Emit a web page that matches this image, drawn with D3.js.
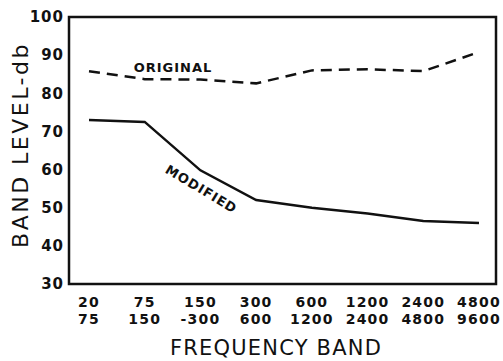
<!DOCTYPE html>
<html>
<head>
<meta charset="utf-8">
<script src="https://cdn.jsdelivr.net/npm/d3@7"></script>
<style>
  body { margin: 0; background: #fff; }
  svg { display: block; }
  text { font-family: "DejaVu Sans", sans-serif; fill: #111; }
</style>
</head>
<body>
<svg id="chart"></svg>
<script>
// bands (two-line labels)
const bandLow = ["20", "75", "150", "300", "600", "1200", "2400", "4800"];
const bandHigh = ["75", "150", "-300", "600", "1200", "2400", "4800", "9600"];
const original = [85.8, 83.7, 83.6, 82.6, 86.0, 86.3, 85.8, 90.8];
const modified = [73.0, 72.5, 59.8, 52.0, 50.0, 48.5, 46.5, 46.0];
const yTicks = [30, 40, 50, 60, 70, 80, 90, 100];

let width = 503;
let height = 361;
let plotLeft = 69, plotRight = 496, plotTop = 17, plotBottom = 284;

let svg = d3.select("#chart")
    .attr("width", width)
    .attr("height", height);

let x = d3.scalePoint()
    .domain(d3.range(bandLow.length))
    .range([89, 479]);

let y = d3.scaleLinear()
    .domain([30, 100])
    .range([plotBottom, plotTop]);

// frame
svg.append("rect")
    .attr("x", plotLeft)
    .attr("y", plotTop)
    .attr("width", plotRight - plotLeft)
    .attr("height", plotBottom - plotTop)
    .attr("fill", "none")
    .attr("stroke", "#111")
    .attr("stroke-width", 2.5);

// y axis labels
let yAxis = d3.axisLeft(y).tickValues(yTicks).tickSize(0).tickPadding(5);
let gy = svg.append("g")
    .attr("transform", "translate(" + plotLeft + ",0)")
    .call(yAxis);
gy.select(".domain").remove();
gy.selectAll("text")
    .style("font-size", "15px")
    .style("font-weight", "bold")
    .style("letter-spacing", "1px")
    .attr("fill", "#111");

// x labels, two lines
function bandRow(data, yPos) {
    svg.append("g").selectAll("text")
        .data(data)
        .enter()
        .append("text")
        .attr("x", (d, i) => x(i))
        .attr("y", yPos)
        .attr("text-anchor", "middle")
        .style("font-size", "14px")
        .style("font-weight", "bold")
        .style("letter-spacing", "1.2px")
        .text(d => d);
}
bandRow(bandLow, 307);
bandRow(bandHigh, 324);

let line = d3.line()
    .x((d, i) => x(i))
    .y(d => y(d));

svg.append("path")
    .datum(original)
    .attr("d", line)
    .attr("fill", "none")
    .attr("stroke", "#111")
    .attr("stroke-width", 2.5)
    .attr("stroke-dasharray", "11,7");

svg.append("path")
    .datum(modified)
    .attr("d", line)
    .attr("fill", "none")
    .attr("stroke", "#111")
    .attr("stroke-width", 2.5);

// series labels
svg.append("text")
    .attr("x", 173)
    .attr("y", 72)
    .attr("text-anchor", "middle")
    .style("font-size", "13px")
    .style("font-weight", "bold")
    .style("letter-spacing", "1px")
    .text("ORIGINAL");

svg.append("text")
    .attr("transform", "translate(199,193) rotate(31)")
    .attr("text-anchor", "middle")
    .style("font-size", "13px")
    .style("font-weight", "bold")
    .style("letter-spacing", "1px")
    .text("MODIFIED");

// axis titles
svg.append("text")
    .attr("transform", "translate(28,145) rotate(-90)")
    .attr("text-anchor", "middle")
    .style("font-size", "22px")
    .style("letter-spacing", "2.5px")
    .text("BAND LEVEL-db");

svg.append("text")
    .attr("x", 276)
    .attr("y", 355)
    .attr("text-anchor", "middle")
    .style("font-size", "21px")
    .style("letter-spacing", "1.2px")
    .text("FREQUENCY BAND");
</script>
</body>
</html>
